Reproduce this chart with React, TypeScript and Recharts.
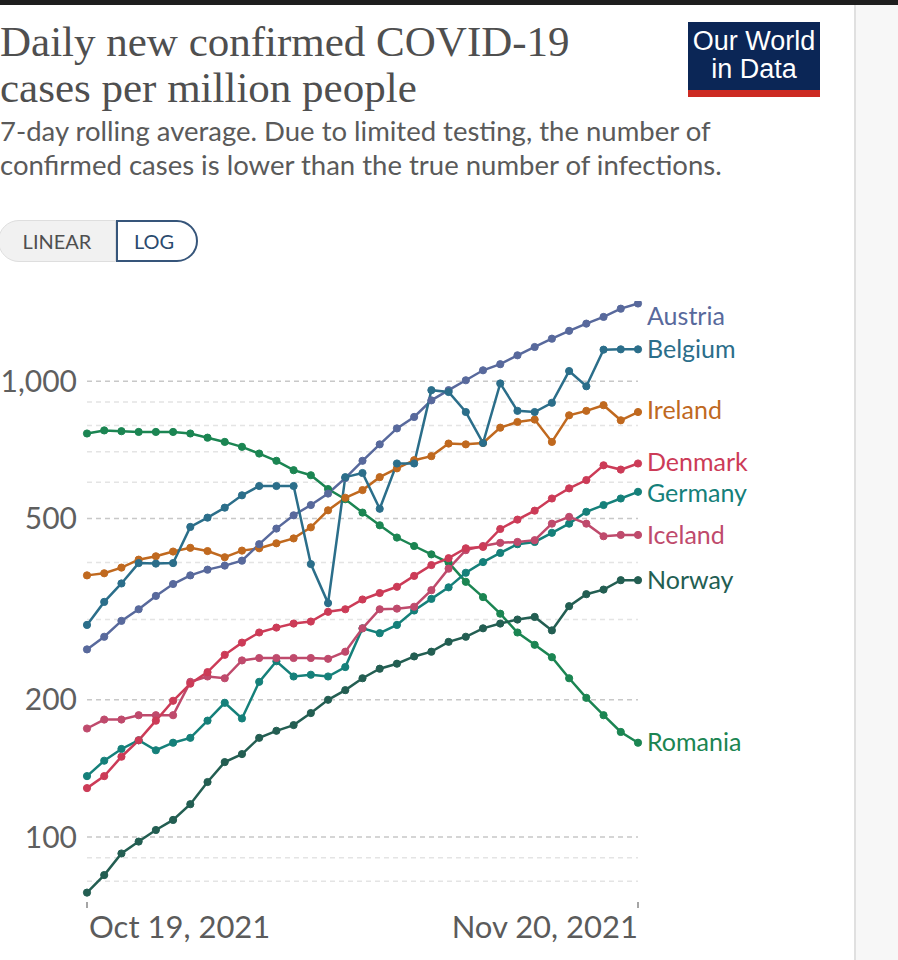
import { LineChart, Line, XAxis, YAxis, ReferenceLine } from "recharts";

// one point per day, 7-day rolling averages (log scale)
const DATES = [
  "Oct 19", "Oct 20", "Oct 21", "Oct 22", "Oct 23", "Oct 24", "Oct 25", "Oct 26", "Oct 27",
  "Oct 28", "Oct 29", "Oct 30", "Oct 31", "Nov 1", "Nov 2", "Nov 3", "Nov 4", "Nov 5",
  "Nov 6", "Nov 7", "Nov 8", "Nov 9", "Nov 10", "Nov 11", "Nov 12", "Nov 13", "Nov 14",
  "Nov 15", "Nov 16", "Nov 17", "Nov 18", "Nov 19", "Nov 20",
];
const X_TICKS = ["Oct 19", "Nov 20"];
const X_TICK_LABELS = ["Oct 19, 2021", "Nov 20, 2021"];
const Y_TICKS = [100, 200, 500, 1000];
const Y_MINOR = [80, 90, 300, 400, 600, 700, 800, 900];

const AUSTRIA = [258, 275, 298, 316, 338, 359, 375, 386, 394, 404, 439, 475, 508, 535, 567, 613, 669, 727, 788, 835, 908, 956, 1005, 1057, 1090, 1140, 1189, 1240, 1290, 1338, 1384, 1443, 1481];
const BELGIUM = [292, 328, 360, 399, 398, 399, 479, 502, 528, 562, 589, 589, 589, 397, 326, 616, 629, 525, 660, 660, 956, 947, 856, 732, 989, 861, 856, 897, 1053, 975, 1173, 1175, 1175];
const IRELAND = [375, 379, 390, 406, 413, 423, 431, 424, 411, 425, 430, 441, 452, 478, 521, 555, 577, 616, 644, 671, 685, 730, 727, 732, 791, 814, 824, 736, 842, 861, 886, 821, 856];
const DENMARK = [128, 136, 150, 163, 180, 199, 217, 230, 251, 267, 281, 288, 294, 297, 312, 316, 332, 343, 354, 374, 395, 409, 430, 433, 474, 497, 520, 553, 582, 607, 654, 640, 660];
const GERMANY = [136, 147, 156, 163, 155, 161, 165, 180, 197, 182, 219, 243, 225, 227, 225, 236, 287, 280, 292, 314, 333, 353, 380, 401, 420, 439, 444, 465, 487, 517, 535, 553, 572];
const ICELAND = [173, 181, 181, 185, 185, 185, 219, 225, 223, 244, 247, 247, 247, 247, 246, 255, 287, 316, 317, 320, 348, 388, 426, 435, 442, 444, 448, 487, 504, 487, 457, 460, 460];
const NORWAY = [75.5, 82.5, 92, 97.7, 103.6, 109, 118, 132, 146, 152, 165, 171, 176, 187, 200, 210, 223, 234, 240, 249, 255, 268, 275, 287, 294, 300, 304, 284, 321, 341, 349, 366, 366];
const ROMANIA = [768, 780, 777, 774, 774, 774, 768, 752, 736, 718, 694, 669, 638, 622, 580, 551, 515, 483, 454, 435, 417, 400, 363, 336, 309, 281, 264, 248, 223, 202, 185, 170, 161];

const SERIES = [
  { key: "Romania", color: "#1b8552", values: ROMANIA },
  { key: "Norway", color: "#235e52", values: NORWAY },
  { key: "Germany", color: "#15807a", values: GERMANY },
  { key: "Iceland", color: "#bf4a6c", values: ICELAND },
  { key: "Denmark", color: "#cc3b57", values: DENMARK },
  { key: "Ireland", color: "#c0691f", values: IRELAND },
  { key: "Austria", color: "#58699c", values: AUSTRIA },
  { key: "Belgium", color: "#2b6e8a", values: BELGIUM },
];

// end labels nudged apart where they would collide
const LABEL_DY: Record<string, number> = { Austria: 13, Ireland: -2, Denmark: -1, Germany: 1 };

const data = DATES.map((d, i) => {
  const row: Record<string, string | number> = { date: d };
  SERIES.forEach((s) => (row[s.key] = s.values[i]));
  return row;
});

const FONT = "Lato, 'Noto Sans', sans-serif";

// eslint-disable-next-line @typescript-eslint/no-explicit-any
const DateTick = ({ x, y, payload }: any) => {
  const first = payload.value === X_TICKS[0];
  return (
    <g>
      <line x1={x} x2={x} y1={y - 8} y2={y - 2} stroke="#888" strokeWidth={1.5} />
      <text
        x={first ? x + 2 : x}
        y={y + 28}
        textAnchor={first ? "start" : "end"}
        fill="#5b5b5b"
        fontSize={31}
        fontFamily={FONT}
      >
        {X_TICK_LABELS[X_TICKS.indexOf(payload.value)]}
      </text>
    </g>
  );
};

const endLabel = (name: string, color: string) =>
  // eslint-disable-next-line @typescript-eslint/no-explicit-any
  (props: any) => {
    const { x, y, index } = props;
    if (index !== DATES.length - 1) return null;
    return (
      <text
        x={x + 9}
        y={y + (LABEL_DY[name] ?? 0)}
        dy="0.35em"
        fill={color}
        fontSize={25}
        fontFamily={FONT}
      >
        {name}
      </text>
    );
  };

export default function App() {
  return (
    <div
      style={{
        position: "absolute",
        left: 0,
        top: 0,
        width: 898,
        height: 960,
        background: "#fff",
        overflow: "hidden",
        fontFamily: FONT,
      }}
    >
      <div style={{ position: "absolute", left: 0, top: 0, width: 898, height: 5, background: "#1e1e1e" }} />
      <div
        style={{
          position: "absolute",
          left: 854,
          top: 5,
          width: 44,
          height: 955,
          background: "#f7f7f7",
          borderLeft: "2px solid #e0e0e0",
        }}
      />

      <div
        style={{
          position: "absolute",
          left: 0,
          top: 19,
          fontFamily: "'Liberation Serif', serif",
          fontSize: 43,
          lineHeight: "46px",
          color: "#4f4f4f",
          whiteSpace: "nowrap",
        }}
      >
        <div>Daily new confirmed COVID-19</div>
        <div>cases per million people</div>
      </div>

      <div
        style={{
          position: "absolute",
          left: 0,
          top: 114,
          fontSize: 27.5,
          lineHeight: "34px",
          color: "#5a5a5a",
          whiteSpace: "nowrap",
        }}
      >
        <div>7-day rolling average. Due to limited testing, the number of</div>
        <div>confirmed cases is lower than the true number of infections.</div>
      </div>

      <div
        style={{
          position: "absolute",
          left: 688,
          top: 22,
          width: 132,
          height: 75,
          background: "#0b2656",
          borderBottom: "7px solid #cc2a22",
          boxSizing: "border-box",
          color: "#fff",
          fontFamily: "'Liberation Sans Narrow', 'Liberation Sans', Arial, sans-serif",
          fontSize: 27,
          lineHeight: "28px",
          textAlign: "center",
          paddingTop: 5,
        }}
      >
        Our World
        <br />
        in Data
      </div>

      <div
        style={{
          position: "absolute",
          left: -2,
          top: 220,
          height: 42,
          display: "flex",
          fontSize: 20,
        }}
      >
        <div
          style={{
            width: 116,
            height: 40,
            background: "#f1f1f1",
            border: "1px solid #dedede",
            borderRadius: "21px 0 0 21px",
            color: "#4f4f4f",
            display: "flex",
            alignItems: "center",
            justifyContent: "center",
          }}
        >
          LINEAR
        </div>
        <div
          style={{
            width: 72,
            height: 38,
            border: "2px solid #36557a",
            borderRadius: "0 21px 21px 0",
            color: "#2a4a6e",
            display: "flex",
            alignItems: "center",
            justifyContent: "center",
            paddingRight: 6,
            boxSizing: "content-box",
          }}
        >
          LOG
        </div>
      </div>

      <div style={{ position: "absolute", left: 0, top: 0 }}>
        <LineChart
          width={898}
          height={960}
          data={data}
          margin={{ top: 301, right: 260, bottom: 0, left: 0 }}
        >
          <XAxis
            dataKey="date"
            ticks={X_TICKS}
            interval={0}
            axisLine={false}
            tickLine={false}
            tick={<DateTick />}
            height={58}
          />
          <YAxis
            scale="log"
            domain={[72, 1500]}
            allowDataOverflow
            ticks={Y_TICKS}
            interval={0}
            axisLine={false}
            tickLine={false}
            width={87}
            tickMargin={4}
            tickFormatter={(v: number) => v.toLocaleString("en-US")}
            tick={{ fill: "#5f5f5f", fontSize: 30, fontFamily: FONT }}
          />
          {Y_MINOR.map((v) => (
            <ReferenceLine key={v} y={v} stroke="#e4e4e4" strokeWidth={1.5} strokeDasharray="5 4" />
          ))}
          {Y_TICKS.map((v) => (
            <ReferenceLine key={v} y={v} stroke="#c8c8c8" strokeWidth={1.5} strokeDasharray="5 4" />
          ))}
          {SERIES.map((s) => (
            <Line
              key={s.key}
              type="linear"
              dataKey={s.key}
              stroke={s.color}
              strokeWidth={2.5}
              dot={{ r: 3.6, fill: s.color, stroke: s.color, strokeWidth: 1 }}
              activeDot={false}
              isAnimationActive={false}
              label={endLabel(s.key, s.color)}
            />
          ))}
        </LineChart>
      </div>
    </div>
  );
}
